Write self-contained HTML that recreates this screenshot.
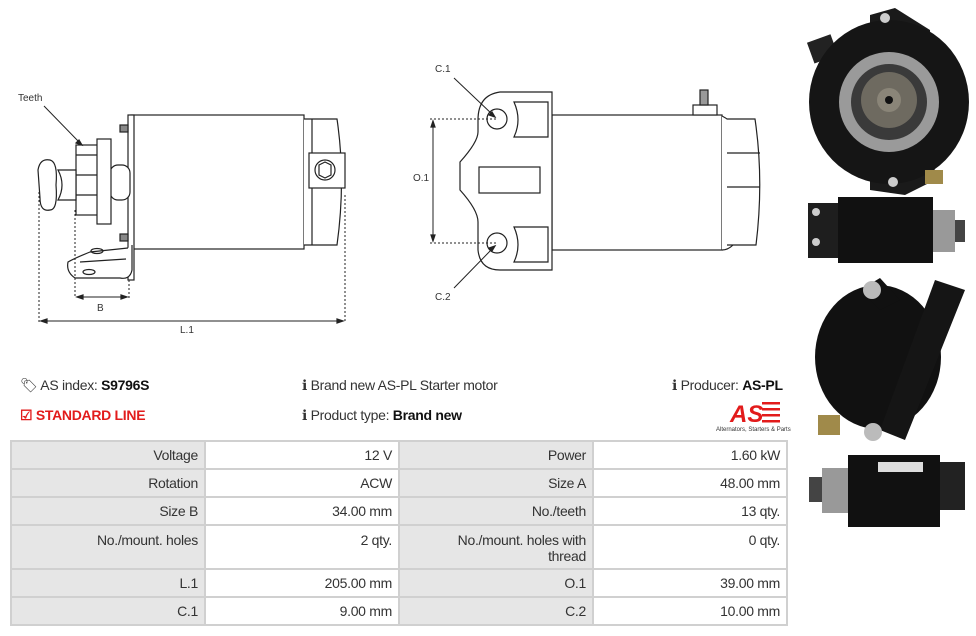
<!DOCTYPE html>
<html><head><meta charset="utf-8"><style>
body{margin:0;width:976px;height:636px;background:#fff;font-family:"Liberation Sans",sans-serif;position:relative;overflow:hidden;color:#333}
.t{position:absolute;font-size:14px;white-space:nowrap;letter-spacing:-0.3px}
b{color:#111}
table{position:absolute;left:10px;top:440px;border-collapse:collapse;font-size:14px;width:778px;table-layout:fixed;letter-spacing:-0.3px}
td{border:2px solid #d0d0d0;height:24px;text-align:right;padding:0 6px 0 0;vertical-align:top;line-height:26px;color:#333;overflow:hidden}
td.l{background:#e6e6e6}
tr.tall td{height:36px;line-height:16px;padding-top:6px}
tr.tall td.w{padding-left:40px}
</style></head><body>
<svg width="976" height="636" style="position:absolute;left:0;top:0" font-family="Liberation Sans" font-size="10" fill="none" stroke="#222" stroke-width="1.2">
<rect x="131" y="115" width="173" height="134" fill="#fff"/>
<rect x="128" y="115" width="6" height="165" fill="#fff"/>
<path d="M304 119 L337 119 Q346 180 337 245 L304 245" fill="#fff"/>
<line x1="312" y1="119" x2="312" y2="245"/>
<rect x="309" y="153" width="36" height="35" fill="#fff"/>
<circle cx="325" cy="170" r="10"/><polygon points="319,165 325,162 331,165 331,175 325,178 319,175"/>
<rect x="120" y="125" width="8" height="7" fill="#888"/><rect x="120" y="234" width="8" height="7" fill="#888"/>
<rect x="110" y="165" width="20" height="35" rx="8" fill="#fff"/>
<rect x="76" y="145" width="22" height="70" fill="#fff"/>
<line x1="76" y1="155" x2="98" y2="155"/><line x1="76" y1="175" x2="98" y2="175"/><line x1="76" y1="195" x2="98" y2="195"/>
<rect x="97" y="139" width="14" height="85" fill="#fff"/>
<path d="M58 170 Q66 185 58 200 L76 200 L76 170Z" fill="#fff"/>
<path d="M38 170 Q40 158 50 160 Q58 162 56 185 Q58 210 50 210 Q40 212 40 198Z" fill="#fff"/>
<path d="M132 245 L132 270 Q130 280 120 278 L75 278 Q66 272 68 262 Q75 258 90 252 L128 248" fill="#fff"/>
<ellipse cx="97" cy="251" rx="6" ry="2.5"/><ellipse cx="89" cy="272" rx="6" ry="2.5"/><line x1="80" y1="262" x2="126" y2="259"/>
<g stroke-dasharray="2,2" stroke-width="1"><line x1="39" y1="192" x2="39" y2="322"/><line x1="345" y1="195" x2="345" y2="322"/><line x1="75" y1="210" x2="75" y2="298"/><line x1="129" y1="280" x2="129" y2="298"/></g>
<line x1="41" y1="321" x2="343" y2="321" stroke-width="1"/><path d="M41 321l6-2v4z M343 321l-6-2v4z M77 297l6-2v4z M127 297l-6-2v4z" fill="#222"/>
<line x1="77" y1="297" x2="127" y2="297" stroke-width="1"/>
<line x1="44" y1="106" x2="80" y2="143" stroke-width="1"/><path d="M82 145l-6-2 3-3z" fill="#222"/>
<rect x="552" y="115" width="170" height="135" fill="#fff"/>
<path d="M722 116 Q730 120 733 125 L733 245 Q728 250 722 250" fill="#fff"/>
<path d="M727 119 L755 119 Q764 180 756 245 L727 245" fill="#fff"/>
<line x1="727" y1="153" x2="760" y2="153"/><line x1="727" y1="187" x2="760" y2="187"/>
<path d="M552 92 L500 92 Q478 95 478 120 L478 132 Q478 142 460 162 L460 190 Q478 210 478 222 L478 250 Q480 270 500 270 L552 270Z" fill="#fff"/>
<rect x="479" y="167" width="61" height="26"/>
<path d="M514 102 L548 102 L548 137 L514 137 Q522 120 514 102Z"/>
<path d="M514 227 L548 227 L548 262 L514 262 Q522 245 514 227Z"/>
<circle cx="497" cy="119" r="10"/><circle cx="497" cy="243" r="10"/>
<rect x="693" y="105" width="24" height="10" fill="#fff"/><rect x="700" y="90" width="8" height="15" fill="#999"/>
<g stroke-dasharray="2,2" stroke-width="1"><line x1="430" y1="119" x2="497" y2="119"/><line x1="430" y1="243" x2="497" y2="243"/></g>
<line x1="433" y1="121" x2="433" y2="241" stroke-width="1"/><path d="M433 121l-2 6h4z M433 241l-2-6h4z" fill="#222"/>
<line x1="454" y1="78" x2="493" y2="115" stroke-width="1"/><path d="M495 117l-6-2 3-3z" fill="#222"/>
<line x1="454" y1="288" x2="493" y2="248" stroke-width="1"/><path d="M495 246l-6 2 3 3z" fill="#222"/>
<g fill="#333" stroke="none">
<text x="18" y="101">Teeth</text><text x="97" y="311">B</text><text x="180" y="333">L.1</text>
<text x="435" y="72">C.1</text><text x="435" y="300">C.2</text><text x="413" y="181">O.1</text></g>
<g stroke="none">
<polygon points="870,15 895,8 930,30 935,180 905,195 870,190" fill="#1a1a1a"/>
<rect x="810" y="38" width="25" height="22" fill="#222" transform="rotate(-20 822 49)"/>
<ellipse cx="889" cy="102" rx="80" ry="82" fill="#151515"/>
<circle cx="889" cy="102" r="50" fill="#9a9a9a"/>
<circle cx="889" cy="102" r="38" fill="#3a3a3a"/>
<circle cx="889" cy="100" r="28" fill="#6e6a60"/>
<circle cx="889" cy="100" r="12" fill="#8a8578"/><circle cx="889" cy="100" r="4" fill="#111"/>
<circle cx="885" cy="18" r="5" fill="#ccc"/><circle cx="893" cy="182" r="5" fill="#ccc"/>
<rect x="925" y="170" width="18" height="14" fill="#a08a4a"/>
<rect x="808" y="203" width="30" height="55" fill="#1e1e1e"/>
<rect x="838" y="197" width="95" height="66" fill="#111"/>
<rect x="933" y="210" width="22" height="42" fill="#999"/>
<rect x="955" y="220" width="10" height="22" fill="#444"/>
<circle cx="816" cy="212" r="4" fill="#ccc"/><circle cx="816" cy="242" r="4" fill="#ccc"/>
<ellipse cx="878" cy="357" rx="63" ry="72" fill="#111"/>
<polygon points="860,290 880,278 900,300 880,310" fill="#111"/>
<polygon points="935,280 965,290 905,440 880,430" fill="#151515"/>
<circle cx="872" cy="290" r="9" fill="#bbb"/><circle cx="873" cy="432" r="9" fill="#bbb"/>
<rect x="818" y="415" width="22" height="20" fill="#a08a4a"/>
<rect x="848" y="455" width="92" height="72" fill="#111"/>
<rect x="822" y="468" width="26" height="45" fill="#999"/>
<rect x="809" y="477" width="13" height="25" fill="#444"/>
<rect x="940" y="462" width="25" height="48" fill="#222"/>
<rect x="878" y="462" width="45" height="10" fill="#ddd"/>
</g>
<g stroke="none"><text x="730" y="422" font-size="24" font-weight="bold" font-style="italic" fill="#e21b1b">AS</text>
<rect x="762" y="402" width="18" height="2.5" fill="#e21b1b"/><rect x="762" y="408" width="18" height="2.5" fill="#e21b1b"/><rect x="762" y="414" width="18" height="2.5" fill="#e21b1b"/><rect x="762" y="420" width="18" height="2.5" fill="#e21b1b"/>
<text x="716" y="431" font-size="6" fill="#333">Alternators, Starters &amp; Parts</text></g>
</svg>
<div class="t" style="left:20px;top:377px">&#x1F3F7;&#xFE0E; AS index: <b>S9796S</b></div>
<div class="t" style="left:20px;top:407px;color:#e21b1b;font-weight:bold">&#9745; STANDARD LINE</div>
<div class="t" style="left:302px;top:377px">&#x2139; Brand new AS-PL Starter motor</div>
<div class="t" style="left:302px;top:407px">&#x2139; Product type: <b>Brand new</b></div>
<div class="t" style="left:672px;top:377px">&#x2139; Producer: <b>AS-PL</b></div>
<table>
<tr><td class="l">Voltage</td><td>12 V</td><td class="l">Power</td><td>1.60 kW</td></tr>
<tr><td class="l">Rotation</td><td>ACW</td><td class="l">Size A</td><td>48.00 mm</td></tr>
<tr><td class="l">Size B</td><td>34.00 mm</td><td class="l">No./teeth</td><td>13 qty.</td></tr>
<tr class="tall"><td class="l">No./mount. holes</td><td>2 qty.</td><td class="l w">No./mount. holes with thread</td><td>0 qty.</td></tr>
<tr><td class="l">L.1</td><td>205.00 mm</td><td class="l">O.1</td><td>39.00 mm</td></tr>
<tr><td class="l">C.1</td><td>9.00 mm</td><td class="l">C.2</td><td>10.00 mm</td></tr>
</table>
</body></html>
